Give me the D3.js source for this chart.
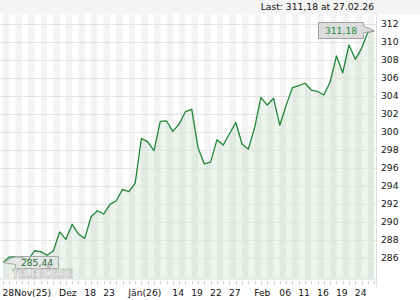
<!DOCTYPE html>
<html><head><meta charset="utf-8">
<script src="https://cdn.jsdelivr.net/npm/d3@7"></script>
<style>body{margin:0;background:#fff}svg{display:block}</style>
</head><body><svg id="c" width="420" height="300"></svg>
<script>
const dates = ["2025-11-28","2025-12-01","2025-12-02","2025-12-03","2025-12-04","2025-12-05","2025-12-09","2025-12-10","2025-12-11","2025-12-12","2025-12-15","2025-12-16","2025-12-17","2025-12-18","2025-12-19","2025-12-22","2025-12-23","2025-12-29","2025-12-30","2025-12-31","2026-01-02","2026-01-05","2026-01-07","2026-01-08","2026-01-09","2026-01-12","2026-01-13","2026-01-14","2026-01-15","2026-01-16","2026-01-19","2026-01-20","2026-01-21","2026-01-22","2026-01-23","2026-01-26","2026-01-27","2026-01-28","2026-01-29","2026-01-30","2026-02-02","2026-02-03","2026-02-04","2026-02-05","2026-02-06","2026-02-09","2026-02-10","2026-02-11","2026-02-12","2026-02-13","2026-02-16","2026-02-17","2026-02-18","2026-02-19","2026-02-20","2026-02-23","2026-02-24","2026-02-25","2026-02-26","2026-02-27"];
const values = [285.44,286.05,286.10,286.00,285.70,286.75,286.65,286.25,286.72,288.85,288.02,289.69,288.59,288.13,290.53,291.20,290.83,291.91,292.31,293.58,293.31,294.24,299.24,298.85,297.87,301.12,301.17,300.02,300.83,302.20,302.47,298.20,296.40,296.60,299.07,298.50,299.75,301.00,298.61,298.04,300.45,303.80,302.94,303.69,300.70,302.90,304.87,305.09,305.36,304.61,304.45,304.06,305.50,308.40,306.53,309.61,308.02,309.24,311.05,311.18];
const tickDates = ["2025-11-28","2025-12-12","2025-12-18","2025-12-23","2026-01-02","2026-01-14","2026-01-19","2026-01-22","2026-01-27","2026-02-02","2026-02-06","2026-02-11","2026-02-16","2026-02-19","2026-02-24"];
const tickLabels = ["28Nov(25)","Dez","18","23","Jän(26)","14","19","22","27","Feb","06","11","16","19","24"];
const yTicks = [286,288,290,292,294,296,298,300,302,304,306,308,310,312];
const headerText = "Last: 311,18 at 27.02.26";
const firstLabel = "285,44";
const lastLabel = "311,18";
const watermark = "TELEBÖRSE";

const svg = d3.select("#c");
const font = "DejaVu Sans, Verdana, sans-serif";
const plotTop = 14.5, plotBottom = 278.5, plotRight = 376.5;
const x = d3.scalePoint().domain(dates).range([3, 374.2]);
const y = d3.scaleLinear().domain([283.667, 313]).range([plotBottom, plotTop]);
const data = dates.map((d, i) => ({d, v: values[i]}));

// header band
svg.append("rect").attr("x",0).attr("y",0).attr("width",420).attr("height",plotTop).attr("fill","#f4f4f4");
svg.append("rect").attr("x",0).attr("y",plotTop).attr("width",plotRight).attr("height",plotBottom-plotTop).attr("fill","#fff");

// stripes
const stripes = data.filter((d,i) => i % 2 === 0 && i < data.length - 1);
svg.append("g").selectAll("rect").data(stripes).join("rect")
  .attr("x", d => x(d.d))
  .attr("y", plotTop)
  .attr("width", x.step())
  .attr("height", plotBottom - plotTop)
  .attr("fill", "#f3f3f3");

// area
const area = d3.area().x(d => x(d.d)).y0(plotBottom).y1(d => y(d.v));
svg.append("path").datum(data).attr("d", area).attr("fill", "rgba(60,130,50,0.09)");

// grid
svg.append("g").selectAll("line").data(yTicks).join("line")
  .attr("x1", 0).attr("x2", plotRight)
  .attr("y1", d => Math.round(y(d)) + 0.5).attr("y2", d => Math.round(y(d)) + 0.5)
  .attr("stroke", "#e3e3e3").attr("stroke-width", 1);

// axes lines
svg.append("line").attr("x1",0).attr("x2",plotRight).attr("y1",plotBottom+0.5).attr("y2",plotBottom+0.5).attr("stroke","#dcdcdc");
svg.append("line").attr("x1",plotRight).attr("x2",plotRight).attr("y1",plotTop).attr("y2",287).attr("stroke","#dcdcdc");
svg.append("g").selectAll("line").data(dates).join("line")
  .attr("x1", d => Math.round(x(d)) + 0.5).attr("x2", d => Math.round(x(d)) + 0.5)
  .attr("y1", 281).attr("y2", 284.5)
  .attr("stroke", "#d0d0d0");

// line
const line = d3.line().x(d => x(d.d)).y(d => y(d.v));
svg.append("path").datum(data).attr("d", line).attr("fill","none")
  .attr("stroke","#1d8736").attr("stroke-width",1.3).attr("stroke-linejoin","round");

// y labels
svg.append("g").selectAll("text").data(yTicks).join("text")
  .attr("x", 381).attr("y", d => y(d) + 3.4)
  .attr("font-family", font).attr("font-size", 9.2).attr("fill", "#111")
  .text(d => d);

// x labels
svg.append("g").selectAll("text").data(tickDates).join("text")
  .attr("x", d => x(d) - 0.5).attr("y", 295.5)
  .attr("font-family", font).attr("font-size", 9.2).attr("fill", "#111")
  .text((d,i) => tickLabels[i]);

// header
svg.append("text").attr("x", 374).attr("y", 10).attr("text-anchor","end")
  .attr("font-family", font).attr("font-size", 9.2).attr("fill","#111").text(headerText);

// first value label
const fx = x(dates[0]), fy = y(values[0]);
svg.append("path").attr("d", `M${fx},${fy} L15.5,256.5 L58.5,256.5 L58.5,268.5 L15.5,268.5 L15.5,${fy+2} Z`)
  .attr("fill","rgba(225,225,225,0.55)").attr("stroke","#a8a8a8").attr("stroke-width",1);
svg.append("text").attr("x", 37).attr("y", 266).attr("text-anchor","middle")
  .attr("font-family", font).attr("font-size", 9.2).attr("fill","#2a6e36").text(firstLabel);

// watermark
svg.append("text").attr("x", 12).attr("y", 278).attr("font-family", font).attr("font-weight","bold")
  .attr("font-size", 13).attr("textLength", 61).attr("lengthAdjust","spacingAndGlyphs")
  .attr("fill","rgba(255,255,255,0.6)").attr("stroke","#bdbdbd").attr("stroke-width",0.9).text(watermark);

// last value label
const lx = x(dates[dates.length-1]), ly = y(values[values.length-1]);
svg.append("path").attr("d", `M318.5,22.5 L363.5,22.5 L363.5,26 L${lx},${ly} L363.5,${ly+2} L363.5,38.5 L318.5,38.5 Z`)
  .attr("fill","#dcdcdc").attr("stroke","#a0a0a0").attr("stroke-width",1);
svg.append("text").attr("x", 341).attr("y", 34).attr("text-anchor","middle")
  .attr("font-family", font).attr("font-size", 9.2).attr("fill","#1f8c38").text(lastLabel);
</script></body></html>
